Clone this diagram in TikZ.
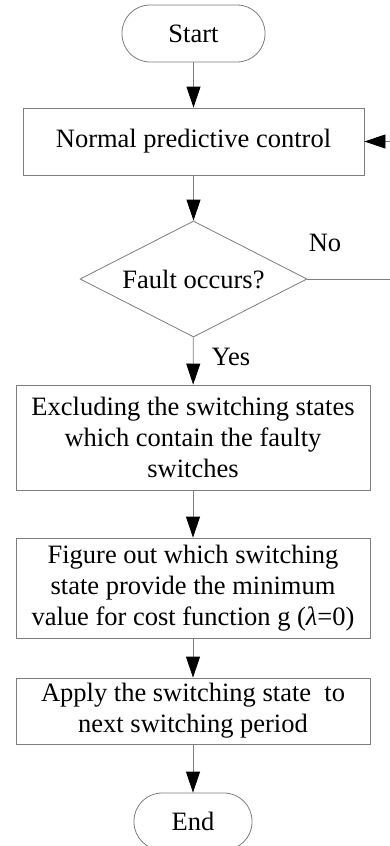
\documentclass[tikz,border=0pt]{standalone}
\usepackage{fontspec}
\setmainfont{Liberation Serif}
\usetikzlibrary{shapes.geometric,arrows.meta}
\definecolor{linegray}{RGB}{125,125,125}
\tikzset{
  every node/.style={font=\fontsize{26.5}{31}\selectfont, text=black},
  procbox/.style={draw=linegray, line width=0.8pt, rectangle, align=center, inner sep=0pt},
  termbox/.style={draw=linegray, line width=0.8pt, rectangle, rounded corners=28pt, inner sep=0pt},
  decbox/.style={draw=linegray, line width=0.8pt, diamond, aspect=1.96, inner sep=0pt, minimum width=227pt, minimum height=116pt},
  flow/.style={draw=linegray, line width=0.8pt, -{Triangle[width=14pt,length=21pt,color=black]}},
  plainline/.style={draw=linegray, line width=0.8pt}
}
\begin{document}
\begin{tikzpicture}[x=1pt,y=-1pt]
\useasboundingbox (0,0) rectangle (390,846);
\clip (0,0) rectangle (390,846);
\node[termbox, minimum width=143pt, minimum height=57pt] (start) at (193.5,33.5) {Start};
\node[procbox, minimum width=341pt, minimum height=67pt] (normal) at (193.5,141.5) {Normal predictive control};
\node[decbox] (fault) at (193.5,279) {Fault occurs?};
\node[procbox, minimum width=354pt, minimum height=105pt] (excl) at (193,437.5) {Excluding the switching states\\which contain the faulty\\switches};
\node[procbox, minimum width=354pt, minimum height=100pt] (figure) at (193,588) {Figure out which switching\\state provide the minimum\\value for cost function g (\textit{λ}=0)};
\node[procbox, minimum width=354pt, minimum height=66pt] (apply) at (193,711) {Apply the switching state\ \ to\\next switching period};
\node[termbox, minimum width=118pt, minimum height=57pt] (end) at (193,821.5) {End};
\node (no) at (325,243) {No};
\node (yes) at (231,357) {Yes};
\coordinate (rtop) at (430,141.5);
\coordinate (rbot) at (430,279);
\draw[flow] (start) -- (normal);
\draw[flow] (normal) -- (fault);
\draw[flow] (fault) -- (excl);
\draw[flow] (excl) -- (figure);
\draw[flow] (figure) -- (apply);
\draw[flow] (apply) -- (end);
\draw[plainline] (fault.east) -- (rbot) -- (rtop);
\draw[flow] (rtop) -- (normal.east);
\end{tikzpicture}
\end{document}
